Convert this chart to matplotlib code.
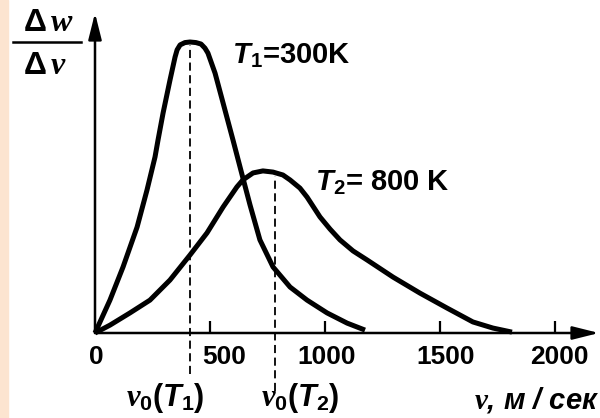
"""
    Maxwell speed distribution at two temperatures
"""

import matplotlib.pyplot as plt
from matplotlib.patches import Rectangle

# curves: speed in m/s, height in arbitrary units (T1 peak = 1)
t1_speed = [0, 65, 122, 183, 226, 261, 274, 296, 326, 348, 357, 370, 391,
            413, 439, 461, 478, 491, 522, 557, 600, 643, 674, 717, 774, 848,
            922, 1009, 1096, 1174]
t1_value = [0, 0.113, 0.227, 0.364, 0.491, 0.605, 0.663, 0.756, 0.869, 0.948,
            0.973, 0.990, 0.998, 1.0, 0.998, 0.993, 0.979, 0.962, 0.893, 0.790,
            0.663, 0.533, 0.440, 0.320, 0.227, 0.158, 0.113, 0.069, 0.034,
            0.010]
t2_speed = [0, 65, 152, 239, 326, 413, 487, 557, 617, 643, 687, 730, 774, 817,
            848, 891, 922, 978, 1022, 1065, 1122, 1183, 1296, 1413, 1530, 1643,
            1730, 1813]
t2_value = [0, 0.027, 0.069, 0.113, 0.182, 0.268, 0.344, 0.433, 0.502, 0.526,
            0.550, 0.557, 0.553, 0.543, 0.526, 0.498, 0.467, 0.399, 0.357,
            0.320, 0.282, 0.251, 0.192, 0.137, 0.086, 0.038, 0.017, 0.003]

# most probable speeds (dashed lines)
v0_speed = [413, 783]
v0_top = [0.99, 0.54]
v0_bottom = [-0.141, -0.199]

tick_values = [0, 500, 1000, 1500, 2000]
tick_labels = ["0", "500", "1000", "1500", "2000"]
tick_nudge = [1, 14, 2, 6, 4]  # pixels, labels sit a little right of the ticks

PX_PER_UNIT = 0.23
ORIGIN_X, ORIGIN_Y, PEAK_PX = 95, 333, 291


def fig_pos(x, y):
    return x / 600, 1 - y / 418


def main():
    plt.rcParams["font.family"] = ["Liberation Sans", "DejaVu Sans"]
    plt.rcParams["mathtext.fontset"] = "custom"
    plt.rcParams["mathtext.rm"] = "Liberation Sans:bold"
    plt.rcParams["mathtext.it"] = "Liberation Serif:bold:italic"
    plt.rcParams["mathtext.sf"] = "Liberation Sans:bold:italic"
    plt.rcParams["mathtext.bf"] = "Liberation Sans:bold"

    fig = plt.figure(figsize=(6, 4.18), dpi=100)
    ax = fig.add_axes([0, 0, 1, 1])
    ax.set_xlim(-ORIGIN_X / PX_PER_UNIT, (600 - ORIGIN_X) / PX_PER_UNIT)
    ax.set_ylim((ORIGIN_Y - 418) / PEAK_PX, ORIGIN_Y / PEAK_PX)
    ax.axis("off")

    fig.add_artist(Rectangle((0, 0), 8 / 600, 1, transform=fig.transFigure,
                             color="#fce4d0", zorder=0))

    # axes with arrows
    arrow = dict(arrowstyle="-|>,head_length=16,head_width=4", mutation_scale=1,
                 lw=1.8, color="black", shrinkA=0, shrinkB=0)
    ax.annotate("", xy=(504 / PX_PER_UNIT, 0), xytext=(0, 0), arrowprops=arrow)
    ax.annotate("", xy=(0, 320 / PEAK_PX), xytext=(0, 0), arrowprops=arrow)
    ax.vlines(tick_values[1:], 0, 12 / PEAK_PX, color="black", lw=1.6)

    ax.vlines(v0_speed, v0_bottom, v0_top, color="black", lw=1.3,
              linestyles=(0, (4.5, 2.5)))

    ax.plot(t1_speed, t1_value, color="black", lw=3.6,
            solid_joinstyle="round", solid_capstyle="butt")
    ax.plot(t2_speed, t2_value, color="black", lw=3.6,
            solid_joinstyle="round", solid_capstyle="butt")

    for value, label, nudge in zip(tick_values, tick_labels, tick_nudge):
        ax.annotate(label, xy=(value, 0), xytext=(nudge, -24),
                    textcoords="offset pixels", ha="center", va="center",
                    fontsize=19, weight="bold")

    fig.text(*fig_pos(232, 56), r"$\mathsf{T}_1$=300K", fontsize=21,
             ha="left", va="center", weight="bold")
    fig.text(*fig_pos(315, 183), r"$\mathsf{T}_2$= 800 K", fontsize=21,
             ha="left", va="center", weight="bold")

    fig.text(*fig_pos(165, 398), r"$v_0$($\mathsf{T}_1$)", fontsize=22,
             ha="center", va="center", weight="bold")
    fig.text(*fig_pos(300, 398), r"$v_0$($\mathsf{T}_2$)", fontsize=22,
             ha="center", va="center", weight="bold")
    fig.text(*fig_pos(599, 400), r"$v$, м / сек", fontsize=21, style="italic",
             weight="bold", ha="right", va="center")

    # y label as a fraction
    fig.text(*fig_pos(48, 23), r"$\Delta\,w$", fontsize=23, ha="center",
             va="center")
    ax.add_artist(plt.Line2D([13 / 600, 81 / 600], [1 - 42 / 418] * 2,
                             transform=fig.transFigure, color="black", lw=1.8))
    fig.text(*fig_pos(45, 66), r"$\Delta\,v$", fontsize=23, ha="center",
             va="center")

    fig.savefig("out.png", dpi=100)


if __name__ == "__main__":
    main()
